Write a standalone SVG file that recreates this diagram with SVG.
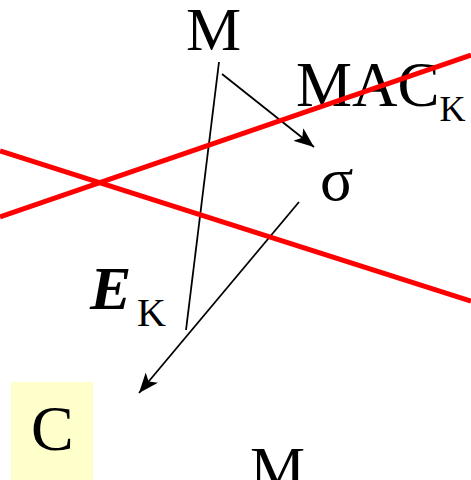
<svg xmlns="http://www.w3.org/2000/svg" width="471" height="480" viewBox="0 0 471 480">
<style>
.t{font-family:"Liberation Serif","Times New Roman",serif;fill:#000}
.c{stroke:#000;stroke-width:1.8;fill:none}
.r{stroke:#ff0000;stroke-width:5;fill:none}
</style>
<defs>
<marker id="ah" markerUnits="userSpaceOnUse" markerWidth="22" markerHeight="16" refX="20" refY="8" orient="auto">
<path d="M0,0 L20,8 L0,16 L5,8 Z" fill="#000"/>
</marker>
</defs>
<rect width="471" height="480" fill="#fff"/>
<g id="nodeC"><rect x="11" y="382" width="82" height="98" fill="#ffffcc"/><text class="t" x="31" y="450" font-size="64">C</text></g>
<g id="connectors">
<line class="c" x1="219" y1="62" x2="186" y2="330"/>
<line class="c" x1="222" y1="74" x2="314" y2="147" marker-end="url(#ah)"/>
<line class="c" x1="299" y1="202" x2="139" y2="393" marker-end="url(#ah)"/>
</g>
<g id="nodeM"><text class="t" x="186" y="50" font-size="62">M</text></g>
<g id="nodeMAC"><text class="t" x="296" y="106" font-size="63">MAC<tspan font-size="36" dy="15">K</tspan></text></g>
<g id="nodeSigma"><text class="t" x="320" y="200" font-size="62">σ</text></g>
<g id="nodeEK"><text class="t" x="90" y="309" font-size="62" font-weight="bold" font-style="italic">E</text><text class="t" x="137" y="326" font-size="40">K</text></g>
<g id="nodeM2"><text class="t" x="250" y="489" font-size="62">M</text></g>
<g id="cross">
<line class="r" x1="0" y1="217" x2="471" y2="55"/>
<line class="r" x1="0" y1="151" x2="471" y2="301"/>
</g>
</svg>
